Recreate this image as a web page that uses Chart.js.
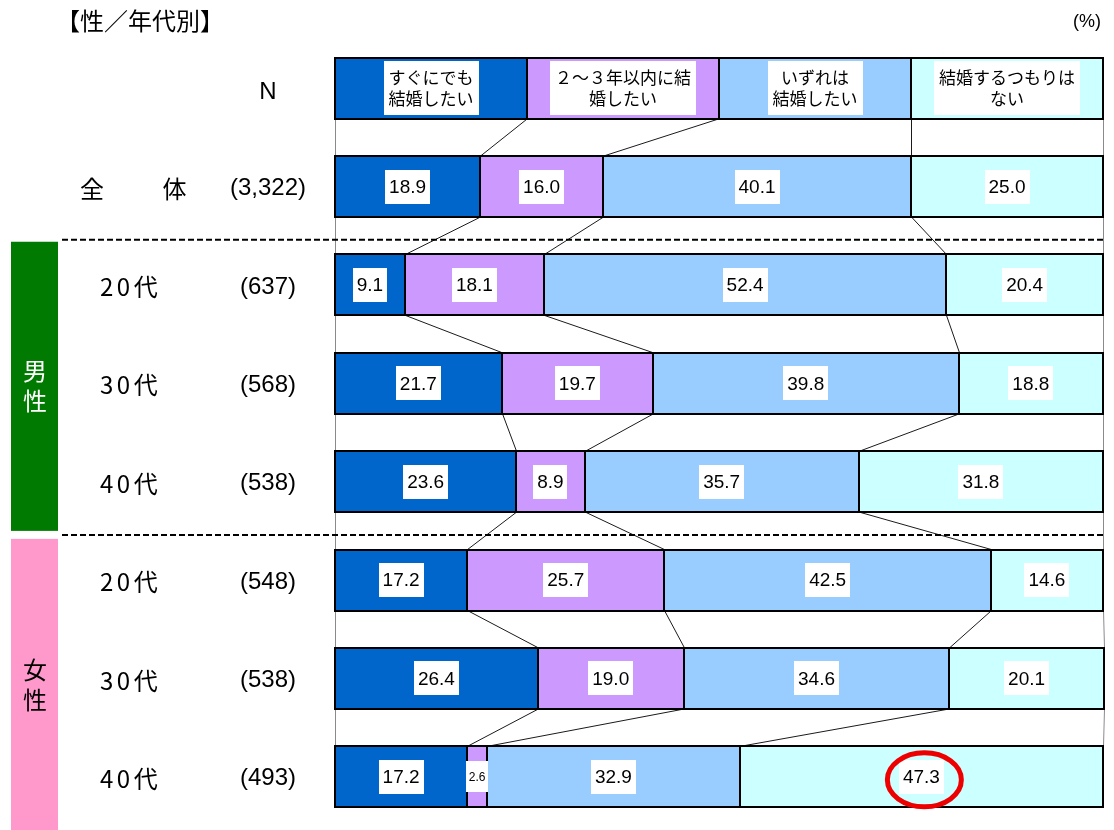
<!DOCTYPE html>
<html><head><meta charset="utf-8">
<script src="https://cdn.jsdelivr.net/npm/chart.js@4/dist/chart.umd.min.js"></script>
<style>html,body{margin:0;padding:0;background:#fff;}#wrap{width:1114px;height:830px;position:relative;}</style>
</head><body><div id="wrap"><canvas id="c" width="1114" height="830"></canvas></div>
<script>
// ---- data ----
const titleText = '【性／年代別】';
const unitText = '(%)';
const nHeader = 'N';
const seriesNames = [
  ['すぐにでも', '結婚したい'],
  ['２～３年以内に結', '婚したい'],
  ['いずれは', '結婚したい'],
  ['結婚するつもりは', 'ない']
];
const legendShare = [25, 25, 25, 25]; // header row: equal-width legend cells
const rowNames = ['全　　体', '20代', '30代', '40代', '20代', '30代', '40代'];
const rowN = ['(3,322)', '(637)', '(568)', '(538)', '(548)', '(538)', '(493)'];
const groupNames = ['男性', '女性'];
const groupRows = [[1, 3], [4, 6]]; // row index ranges (0 = 全体)
const soon = [18.9, 9.1, 21.7, 23.6, 17.2, 26.4, 17.2];
const within23 = [16.0, 18.1, 19.7, 8.9, 25.7, 19.0, 2.6];
const someday = [40.1, 52.4, 39.8, 35.7, 42.5, 34.6, 32.9];
const never = [25.0, 20.4, 18.8, 31.8, 14.6, 20.1, 47.3];
const highlight = { row: 6, series: 3 };

// ---- styles ----
const colors = ['#0066CC', '#CC99FF', '#99CCFF', '#CCFFFF'];
const groupColors = ['#007A00', '#FF99CC'];
const groupTextColors = ['#FFFFFF', '#000000'];
const JP = '"Noto Sans CJK JP", "Noto Sans", sans-serif';
const LAT = '"Liberation Sans", Arial, sans-serif';

const allSeries = [soon, within23, someday, never];

const overlay = {
  id: 'overlay',
  beforeDatasetsDraw(chart) {
    const ctx = chart.ctx;
    const metas = [0, 1, 2, 3].map(i => chart.getDatasetMeta(i));
    const n = chart.data.labels.length;
    ctx.save();
    for (let r = 0; r < n - 1; r++) {
      const a = metas[0].data[r], b = metas[0].data[r + 1];
      const yb = a.y + a.height / 2, yt = b.y - b.height / 2;
      const xa = [a.base, ...metas.map(m => m.data[r].x)];
      const xb = [b.base, ...metas.map(m => m.data[r + 1].x)];
      for (let k = 0; k < xa.length; k++) {
        const edge = (k === 0 || k === xa.length - 1);
        ctx.strokeStyle = edge ? '#8a8a8a' : '#1a1a1a';
        ctx.lineWidth = 1;
        ctx.beginPath();
        ctx.moveTo(Math.round(xa[k]) + 0.5, yb);
        ctx.lineTo(Math.round(xb[k]) + 0.5, yt);
        ctx.stroke();
      }
    }
    ctx.restore();
  },
  afterDatasetsDraw(chart) {
    const ctx = chart.ctx;
    const ys = chart.scales.y;
    const metas = [0, 1, 2, 3].map(i => chart.getDatasetMeta(i));
    const n = chart.data.labels.length;
    ctx.save();
    // crisp segment outlines
    ctx.strokeStyle = '#000';
    ctx.lineWidth = 2;
    for (let s = 0; s < 4; s++) {
      for (let r = 0; r < n; r++) {
        const el = metas[s].data[r];
        const x0 = Math.round(el.base), x1 = Math.round(el.x);
        const y0 = Math.round(el.y - el.height / 2), y1 = Math.round(el.y + el.height / 2);
        ctx.strokeRect(x0, y0, x1 - x0, y1 - y0);
      }
    }
    ctx.textBaseline = 'middle';
    ctx.textAlign = 'center';
    // segment labels
    for (let s = 0; s < 4; s++) {
      for (let r = 0; r < n; r++) {
        const el = metas[s].data[r];
        const cx = (el.base + el.x) / 2, cy = el.y;
        if (r === 0) {
          ctx.font = '17px ' + JP;
          const lines = seriesNames[s];
          const w = Math.max(...lines.map(t => ctx.measureText(t).width)) + 10;
          const h = 54;
          ctx.fillStyle = '#fff';
          ctx.fillRect(Math.round(cx - w / 2), Math.round(cy - h / 2), Math.round(w), h);
          ctx.fillStyle = '#000';
          ctx.fillText(lines[0], cx, cy - 10.5);
          ctx.fillText(lines[1], cx, cy + 10.5);
        } else {
          const v = allSeries[s][r - 1];
          const small = v < 5;
          ctx.font = (small ? '12px ' : '19px ') + LAT;
          const txt = v.toFixed(1);
          const w = ctx.measureText(txt).width + (small ? 5 : 8);
          const h = small ? 31 : 34;
          ctx.fillStyle = '#fff';
          ctx.fillRect(Math.round(cx - w / 2), Math.round(cy - h / 2), Math.round(w), h);
          ctx.fillStyle = '#000';
          ctx.fillText(txt, cx, cy + 1);
        }
      }
    }
    // highlight ellipse
    const hel = metas[highlight.series].data[highlight.row + 1];
    const hx = (hel.base + hel.x) / 2 + 3, hy = hel.y + 3;
    ctx.strokeStyle = '#EE0000';
    ctx.lineWidth = 5;
    ctx.beginPath();
    ctx.ellipse(hx, hy, 37, 27, 0, 0, Math.PI * 2);
    ctx.stroke();

    // dashed separators & group bands (category index = row index + 1)
    const sepY = groupRows.map(gr => (ys.getPixelForValue(gr[0]) + ys.getPixelForValue(gr[0] + 1)) / 2 + 4);
    const right = chart.chartArea.right;
    sepY.forEach((y, gi) => {
      const top = gi === 0 ? y + 2 : y + 4;
      const bottom = gi + 1 < sepY.length ? sepY[gi + 1] - 4 : chart.height;
      ctx.fillStyle = groupColors[gi];
      ctx.fillRect(11, top, 47, bottom - top);
      const mid = (top + bottom) / 2;
      ctx.fillStyle = groupTextColors[gi];
      ctx.font = '24px ' + JP;
      ctx.textAlign = 'center';
      ctx.fillText(groupNames[gi][0], 35, mid - 15);
      ctx.fillText(groupNames[gi][1], 35, mid + 15);
    });
    ctx.strokeStyle = '#000';
    ctx.lineWidth = 2;
    ctx.setLineDash([6, 3]);
    sepY.forEach(y => {
      ctx.beginPath();
      ctx.moveTo(62, y);
      ctx.lineTo(right + 2, y);
      ctx.stroke();
    });
    ctx.setLineDash([]);

    // left labels
    ctx.fillStyle = '#000';
    ctx.font = '24px ' + LAT;
    ctx.textAlign = 'center';
    ctx.fillText(nHeader, 268, ys.getPixelForValue(0) + 4);
    for (let r = 1; r < n; r++) {
      const y = ys.getPixelForValue(r) + 2;
      ctx.textAlign = 'left';
      ctx.font = '24px ' + JP;
      ctx.letterSpacing = '3.5px';
      ctx.fillText(rowNames[r - 1], r === 1 ? 80 : 100, y);
      ctx.letterSpacing = '0px';
      ctx.textAlign = 'center';
      ctx.font = '24px ' + LAT;
      ctx.fillText(rowN[r - 1], 268, y);
    }
    // title & unit
    ctx.textAlign = 'left';
    ctx.font = '24px ' + JP;
    ctx.fillText(titleText, 56, 21);
    ctx.textAlign = 'right';
    ctx.font = '18px ' + LAT;
    ctx.fillText(unitText, 1101, 22);
    ctx.restore();
  }
};

const datasets = allSeries.map((vals, i) => ({
  label: seriesNames[i].join(''),
  data: [legendShare[i], ...vals],
  backgroundColor: colors[i],
  borderWidth: 0,
  barPercentage: 0.62,
  categoryPercentage: 1
}));

new Chart(document.getElementById('c'), {
  type: 'bar',
  data: { labels: ['凡例', ...rowNames], datasets },
  options: {
    indexAxis: 'y',
    responsive: false,
    animation: false,
    devicePixelRatio: 1,
    layout: { padding: { left: 335, right: 11, top: 39, bottom: 4 } },
    scales: {
      x: { display: false, stacked: true, min: 0, max: 100 },
      y: { display: false, stacked: true }
    },
    plugins: { legend: { display: false }, tooltip: { enabled: false } }
  },
  plugins: [overlay]
});
</script>
</body></html>
